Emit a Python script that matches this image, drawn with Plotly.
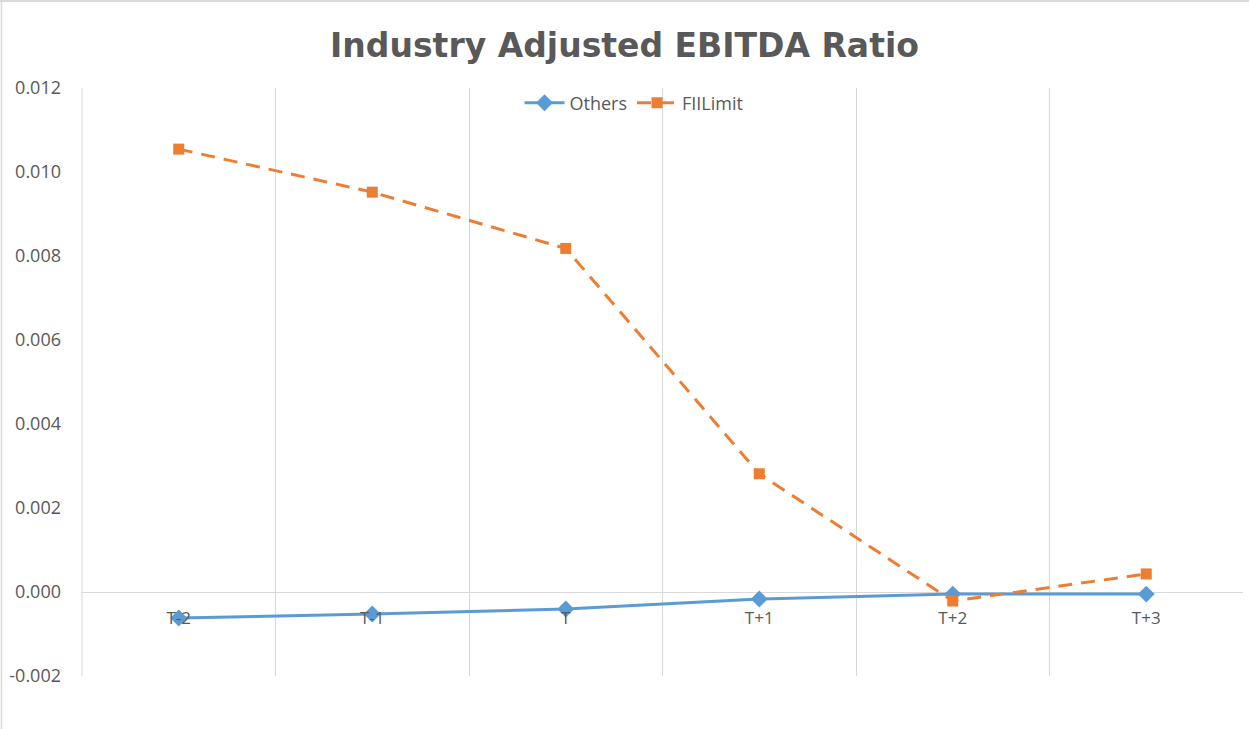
import plotly.graph_objects as go

categories = ["T-2", "T-1", "T", "T+1", "T+2", "T+3"]
others = [-0.00062, -0.000525, -0.000405, -0.000167, -0.00005, -0.00005]
fiilimit = [0.010545, 0.00952, 0.00818, 0.002815, -0.000215, 0.00043]
y_ticks = [-0.002, 0.000, 0.002, 0.004, 0.006, 0.008, 0.010, 0.012]
y_labels = ["-0.002", "0.000", "0.002", "0.004", "0.006", "0.008", "0.010", "0.012"]

W, H = 1249, 729
ML, MR, MT, MB = 82, 6, 88, 53
PW, PH = W - ML - MR, H - MT - MB

BLUE = "#5B9BD5"
ORANGE = "#ED7D31"
TXT = "#595959"
GRID = "#D9D9D9"
FONT = "Open Sans"

fig = go.Figure()
fig.add_trace(go.Scatter(
    x=categories, y=others, name="Others", mode="lines+markers",
    line=dict(color=BLUE, width=3),
    marker=dict(symbol="diamond", size=13, color=BLUE),
))
fig.add_trace(go.Scatter(
    x=categories, y=fiilimit, name="FIILimit", mode="lines+markers",
    line=dict(color=ORANGE, width=3, dash="14px,9px"),
    marker=dict(symbol="square", size=11, color=ORANGE),
))

ymin, ymax = y_ticks[0], y_ticks[-1]
zero_pos = (0 - ymin) / (ymax - ymin)

def px_x(p):
    return (p - ML) / PW

def px_y(p):
    return (H - MB - p) / PH

fig.update_layout(
    width=W, height=H,
    margin=dict(l=ML, r=MR, t=MT, b=MB),
    paper_bgcolor="white", plot_bgcolor="white",
    title=dict(
        text="<b>Industry Adjusted EBITDA Ratio</b>",
        x=0.5, xref="container", xanchor="center",
        y=1 - 45 / H, yref="container", yanchor="middle",
        font=dict(family="DejaVu Sans", size=33, color=TXT),
    ),
    font=dict(family=FONT, size=18, color=TXT),
    legend=dict(
        orientation="h", x=px_x(634), xanchor="center",
        y=1 - 15 / PH, yanchor="middle",
        bgcolor="rgba(0,0,0,0)",
        font=dict(family=FONT, size=18, color=TXT),
        itemwidth=40,
    ),
    showlegend=True,
    xaxis=dict(
        type="category",
        range=[-0.5, 5.5],
        tickson="boundaries",
        showgrid=True, gridcolor=GRID, gridwidth=1,
        showline=False, zeroline=False,
        ticks="", ticklen=0,
        anchor="free", position=zero_pos,
        ticklabelstandoff=14,
        tickfont=dict(family=FONT, size=17, color=TXT),
        fixedrange=True,
    ),
    yaxis=dict(
        range=[ymin, ymax],
        tickvals=y_ticks, ticktext=y_labels,
        showgrid=False,
        zeroline=True, zerolinecolor=GRID, zerolinewidth=1,
        showline=False, ticks="",
        ticklabelstandoff=20,
        tickfont=dict(family=FONT, size=18, color=TXT),
        fixedrange=True,
    ),
    shapes=[
        dict(type="line", xref="paper", yref="paper",
             x0=px_x(0), x1=px_x(W), y0=px_y(1), y1=px_y(1),
             line=dict(color=GRID, width=2)),
        dict(type="line", xref="paper", yref="paper",
             x0=px_x(1.5), x1=px_x(1.5), y0=px_y(0), y1=px_y(H),
             line=dict(color=GRID, width=1.5)),
        dict(type="line", xref="paper", yref="paper",
             x0=0, x1=0, y0=0, y1=1,
             line=dict(color=GRID, width=1), layer="below"),
    ],
)

fig.write_html("out.html")
